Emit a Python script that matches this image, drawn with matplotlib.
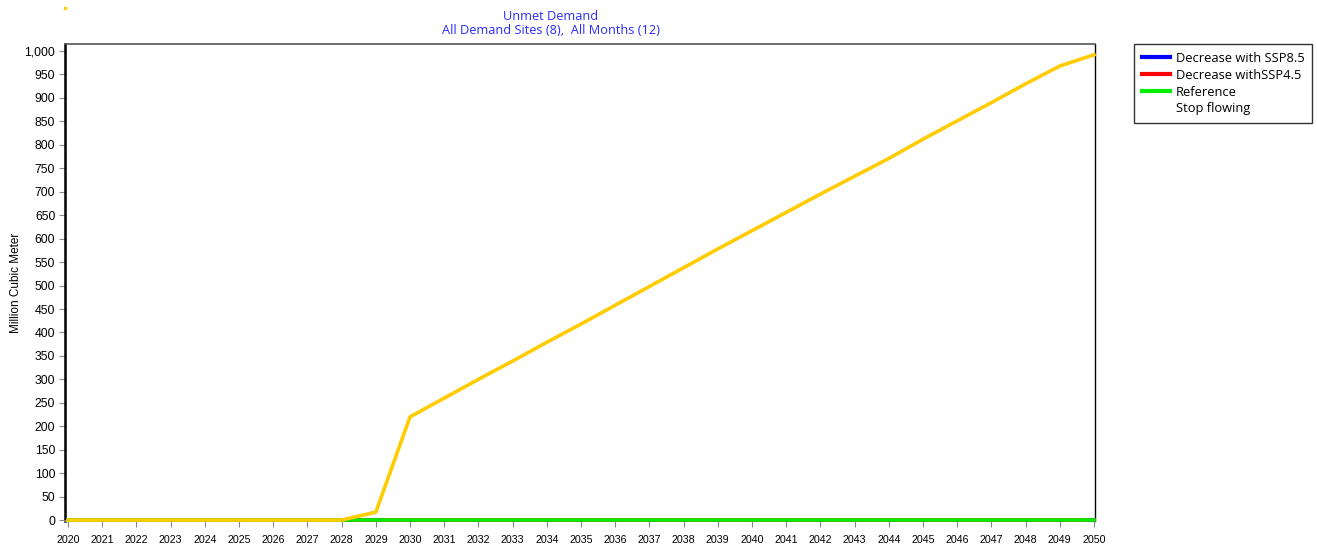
import matplotlib.pyplot as plt
from matplotlib.lines import Line2D

years = list(range(2020, 2051))

# unmet demand per scenario, million m3
ssp85 = [0] * 31
ssp45 = [0] * 31
reference = [0] * 31
stop_flowing = [0, 0, 0, 0, 0, 0, 0, 0, 0, 17, 220, 260, 300, 339, 379, 418,
                458, 498, 538, 578, 617, 656, 695, 733, 771, 812, 851, 890,
                930, 968, 992]

yticks = list(range(0, 1001, 50))

fig = plt.figure(figsize=(13.17, 5.46), dpi=100)
ax = fig.add_axes([65 / 1317, 25 / 546, 1030 / 1317, 477 / 546])

kw = dict(lw=2.6, clip_on=False, zorder=3)
ax.plot(years, ssp85, color='#0000ff', label='Decrease with SSP8.5', **kw)
ax.plot(years, ssp45, color='#ff0000', label='Decrease withSSP4.5', **kw)
ax.plot(years, reference, color='#00ee00', label='Reference', **kw)
ax.plot(years, stop_flowing, color='#ffcc00', label='Stop flowing',
        solid_joinstyle='round', **kw)

ax.set_xlim(2019.91, 2050.03)
ax.set_ylim(-2, 1015)
ax.set_xticks(years)
ax.set_xticklabels([str(y) for y in years], fontsize=7.7, family='Liberation Sans')
ax.set_yticks(yticks)
ax.set_yticklabels([f'{v:,}' for v in yticks], fontsize=8.8, family='Liberation Sans')
ax.tick_params(axis='both', direction='out', length=4, color='#888888', pad=3)
ax.tick_params(axis='x', pad=6)

ax.spines['left'].set_linewidth(1.8)
ax.spines['left'].set_color('black')
ax.spines['right'].set_color('black')
ax.spines['right'].set_linewidth(1.0)
ax.spines['top'].set_color('#555555')
ax.spines['top'].set_linewidth(1.2)
ax.spines['bottom'].set_color('#999999')
ax.spines['bottom'].set_linewidth(1.2)

ax.set_ylabel('Million Cubic Meter', fontsize=8.5, family='Liberation Sans')
ax.yaxis.set_label_coords(-0.0415, 0.5)

fig.text(551 / 1317, 1 - 16 / 546, 'Unmet Demand', color='#2b2bff',
         ha='center', va='center', fontsize=9.2, family='Open Sans')
fig.text(551 / 1317, 1 - 31 / 546, 'All Demand Sites (8),  All Months (12)',
         color='#2b2bff', ha='center', va='center', fontsize=9.2, family='Open Sans')

# little marker in the top corner
fig.add_artist(Line2D([65 / 1317], [1 - 8 / 546], marker='s', markersize=2,
                      color='#ffcc00', transform=fig.transFigure))

handles = [
    Line2D([], [], color='#0000ff', lw=3),
    Line2D([], [], color='#ff0000', lw=3),
    Line2D([], [], color='#00ee00', lw=3),
    Line2D([], [], color='none', lw=3),
]
labels = ['Decrease with SSP8.5', 'Decrease withSSP4.5', 'Reference', 'Stop flowing']
leg = fig.legend(handles, labels, loc='upper left',
                 bbox_to_anchor=(1134 / 1317, 1 - 44 / 546),
                 frameon=True, fancybox=False,
                 prop={'family': 'Open Sans', 'size': 9.3},
                 handlelength=2.2, handletextpad=0.45, labelspacing=0.3,
                 borderpad=0.6, borderaxespad=0)
leg.get_frame().set_edgecolor('black')
leg.get_frame().set_linewidth(1.0)

fig.savefig('out.png', dpi=100)
